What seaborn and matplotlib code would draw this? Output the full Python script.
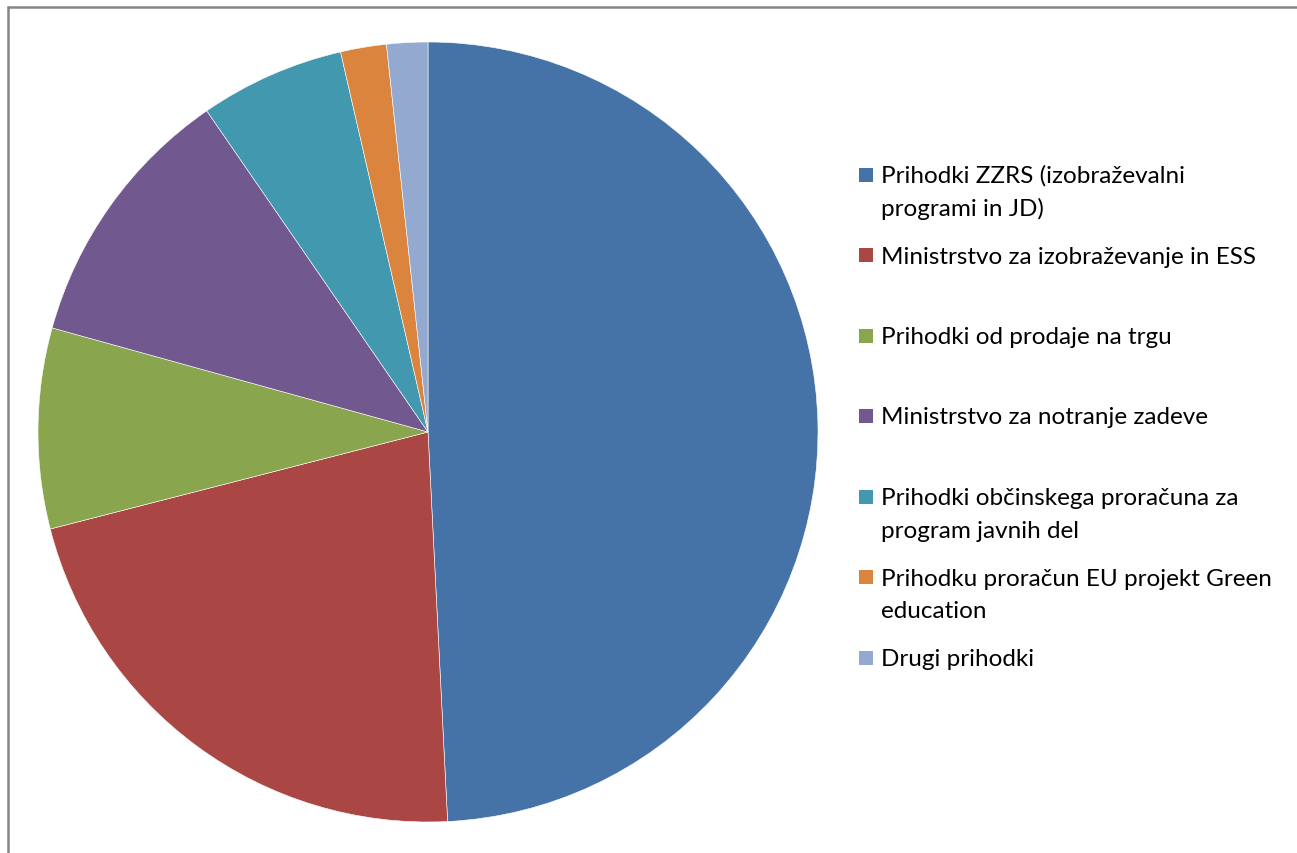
import matplotlib
matplotlib.use("Agg")
import matplotlib.pyplot as plt
import seaborn as sns
from matplotlib.lines import Line2D
from matplotlib.patches import Rectangle

labels = [
    "Prihodki ZZRS (izobraževalni\nprogrami in JD)",
    "Ministrstvo za izobraževanje in ESS",
    "Prihodki od prodaje na trgu",
    "Ministrstvo za notranje zadeve",
    "Prihodki občinskega proračuna za\nprogram javnih del",
    "Prihodku proračun EU projekt Green\neducation",
    "Drugi prihodki",
]
shares = [49.2, 21.8, 8.3, 11.1, 6.0, 1.9, 1.7]
colors = ["#4572A7", "#AA4643", "#89A54E", "#71588F", "#4198AF", "#DB843D", "#93A9CF"]


def main():
    sns.set_theme(style="white")
    plt.rcParams["font.family"] = ["Lato", "DejaVu Sans"]
    palette = sns.color_palette(colors)

    W, H = 1297, 854
    fig = plt.figure(figsize=(W / 100, H / 100), dpi=100)

    # pie: centre (428, 433) px, radius 390 px
    cx, cy, r = 428, 433, 390
    ax = fig.add_axes([(cx - r) / W, (H - cy - r) / H, 2 * r / W, 2 * r / H])
    ax.pie(shares, colors=palette, startangle=90, counterclock=False,
           wedgeprops={"edgecolor": "white", "linewidth": 0.4})
    ax.set_xlim(-1, 1)
    ax.set_ylim(-1, 1)
    ax.set_aspect("equal")
    ax.axis("off")

    # chart frame (only top and left edges visible)
    fig.add_artist(Line2D([7.5 / W, 7.5 / W], [0, 1 - 7.5 / H],
                          transform=fig.transFigure, color="#868686", lw=1.8))
    fig.add_artist(Line2D([7.5 / W, 1], [1 - 7.5 / H, 1 - 7.5 / H],
                          transform=fig.transFigure, color="#868686", lw=1.8))

    # legend drawn by hand: entries evenly spaced by their first line
    first_baseline = 183
    step = 80.5
    line_h = 33
    for i, (lab, col) in enumerate(zip(labels, palette)):
        base = first_baseline + i * step
        fig.add_artist(Rectangle((859 / W, 1 - (base - 0.5) / H), 14 / W, 14 / H,
                                 transform=fig.transFigure, facecolor=col,
                                 edgecolor="none"))
        for j, line in enumerate(lab.split("\n")):
            fig.text(881 / W, 1 - (base + j * line_h) / H, line,
                     ha="left", va="baseline", fontsize=17.5, color="black")

    fig.savefig("out.png", dpi=100)


if __name__ == "__main__":
    main()
